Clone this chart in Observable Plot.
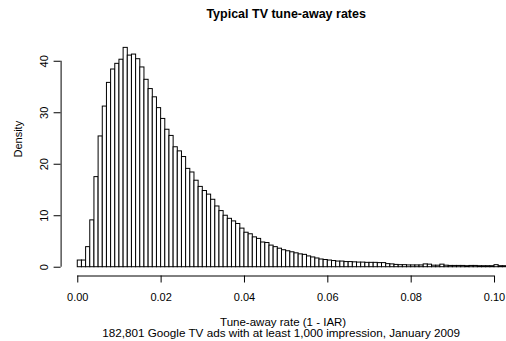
<!DOCTYPE html>
<html>
<head>
<meta charset="utf-8">
<script src="https://cdn.jsdelivr.net/npm/d3@7"></script>
<script src="https://cdn.jsdelivr.net/npm/@observablehq/plot@0.6"></script>
<style>
  html, body { margin: 0; padding: 0; background: #fff; }
  #chart svg { display: block; }
</style>
</head>
<body>
<div id="chart"></div>
<script>
// Histogram of tune-away rates: density per bin of width 0.001, starting at 0
const binWidth = 0.001;
const density = [
  1.3, 1.3, 3.9, 9.1, 17.5, 25.4, 31.2, 35.8, 38.4, 39.5,
  40.3, 42.6, 41.1, 41.3, 40.4, 38.8, 36.4, 34.6, 33.0, 30.9,
  28.8, 26.7, 25.5, 23.3, 22.5, 21.4, 19.1, 18.4, 16.8, 15.6,
  14.8, 14.1, 13.1, 11.8, 10.9, 10.0, 9.4, 8.9, 8.4, 7.5,
  6.7, 6.4, 5.8, 5.5, 4.8, 4.7, 4.2, 3.9, 3.6, 3.3,
  3.1, 2.9, 2.7, 2.5, 2.4, 2.1, 1.9, 1.7, 1.5, 1.4,
  1.3, 1.2, 1.1, 1.1, 1.0, 1.0, 0.95, 0.9, 0.9, 0.85,
  0.85, 0.85, 0.8, 0.8, 0.6, 0.55, 0.45, 0.4, 0.4, 0.35,
  0.35, 0.35, 0.35, 0.55, 0.5, 0.3, 0.3, 0.5, 0.3, 0.25,
  0.25, 0.25, 0.25, 0.2, 0.25, 0.25, 0.2, 0.2, 0.2, 0.2,
  0.4, 0.2, 0.2, 0.15
];

const xTicks = [0, 0.02, 0.04, 0.06, 0.08, 0.10];
const yTicks = [0, 10, 20, 30, 40];

const titleText = "Typical TV tune-away rates";
const xLabel = "Tune-away rate (1 - IAR)";
const subText = "182,801 Google TV ads with at least 1,000 impression, January 2009";
const yLabel = "Density";

const bins = density.map((d, i) => ({x1: i * binWidth, x2: (i + 1) * binWidth, density: d}));

// R-style axis limits: data range padded by 4% on each side
const xLim = [0, 0.1];
const yLim = [0, d3.max(density)];
const pad = (lim) => { const e = 0.04 * (lim[1] - lim[0]); return [lim[0] - e, lim[1] + e]; };
const xDomain = pad(xLim);
const yDomain = pad(yLim);

const font = "'Liberation Sans', Arial, sans-serif";

const chart = Plot.plot({
  width: 506,
  height: 341,
  marginLeft: 60.6,
  marginRight: -4.7,
  marginTop: 38.6,
  marginBottom: 65.5,
  x: {domain: xDomain},
  y: {domain: yDomain},
  style: {fontFamily: font, fontSize: "11px", background: "#fff", color: "#000"},
  marks: [
    Plot.rectY(bins, {x1: "x1", x2: "x2", y: "density", fill: "#fff", stroke: "#000", strokeWidth: 1}),
    // axis lines spanning the tick range
    Plot.ruleY([yDomain[0]], {x1: xTicks[0], x2: xTicks[xTicks.length - 1], stroke: "#000"}),
    Plot.ruleX([xDomain[0]], {y1: yTicks[0], y2: yTicks[yTicks.length - 1], stroke: "#000"}),
    Plot.axisX({ticks: xTicks, tickSize: 7, tickPadding: 9.7, tickFormat: d3.format(".2f"), label: null, stroke: "#000", fill: "#000"}),
    Plot.axisY({ticks: yTicks, tickSize: 7, tickPadding: 6, tickRotate: -90, label: null, stroke: "#000", fill: "#000"}),
    Plot.text([titleText], {frameAnchor: "top", dy: -21.1, lineAnchor: "bottom", fontWeight: "bold", fontSize: 12.5, fill: "#000"}),
    Plot.text([xLabel], {frameAnchor: "bottom", dx: -3, dy: 49.5, lineAnchor: "bottom", fontSize: 11.5, fill: "#000"}),
    Plot.text([subText], {frameAnchor: "bottom", dx: -5, dy: 61, lineAnchor: "bottom", fontSize: 11.7, fill: "#000"}),
    Plot.text([yLabel], {frameAnchor: "left", dx: -39.1, rotate: -90, lineAnchor: "bottom", fontSize: 11, fill: "#000"})
  ]
});

document.getElementById("chart").appendChild(chart);
</script>
</body>
</html>
